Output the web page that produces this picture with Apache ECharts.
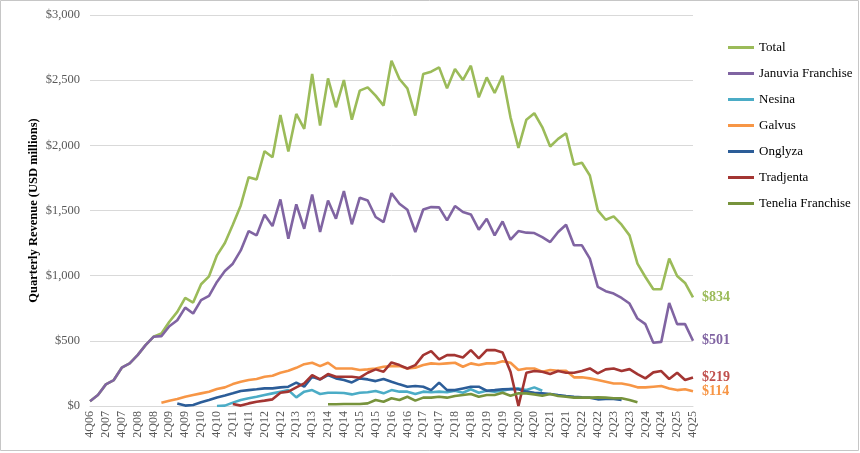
<!DOCTYPE html>
<html>
<head>
    <meta charset="utf-8">
    <title>DPP-4 quarterly revenue</title>
    <style type="text/css">
        html, body { margin: 0; padding: 0; background: #fff; }
        #main { width: 860px; height: 453px; }
    </style>
</head>
<body>
    <div id="main"></div>
<script src="https://cdn.jsdelivr.net/npm/echarts@6/dist/echarts.min.js"></script>
<script type="text/javascript">
    var quarters = [
        '4Q06',
        '1Q07', '2Q07', '3Q07', '4Q07', '1Q08', '2Q08', '3Q08', '4Q08',
        '1Q09', '2Q09', '3Q09', '4Q09', '1Q10', '2Q10', '3Q10', '4Q10',
        '1Q11', '2Q11', '3Q11', '4Q11', '1Q12', '2Q12', '3Q12', '4Q12',
        '1Q13', '2Q13', '3Q13', '4Q13', '1Q14', '2Q14', '3Q14', '4Q14',
        '1Q15', '2Q15', '3Q15', '4Q15', '1Q16', '2Q16', '3Q16', '4Q16',
        '1Q17', '2Q17', '3Q17', '4Q17', '1Q18', '2Q18', '3Q18', '4Q18',
        '1Q19', '2Q19', '3Q19', '4Q19', '1Q20', '2Q20', '3Q20', '4Q20',
        '1Q21', '2Q21', '3Q21', '4Q21', '1Q22', '2Q22', '3Q22', '4Q22',
        '1Q23', '2Q23', '3Q23', '4Q23', '1Q24', '2Q24', '3Q24', '4Q24',
        '1Q25', '2Q25', '3Q25', '4Q25'
    ];
    var yTicks = [0, 500, 1000, 1500, 2000, 2500, 3000];

    var total = [
        37, 84, 166, 199, 294, 327, 390, 467, 531,
        556, 646, 722, 829, 794, 934, 995, 1156,
        1251, 1391, 1539, 1756, 1738, 1955, 1909, 2233,
        1952, 2241, 2126, 2547, 2151, 2514, 2292, 2501,
        2197, 2420, 2445, 2381, 2305, 2649, 2509, 2437,
        2228, 2547, 2565, 2598, 2437, 2585, 2501, 2611,
        2368, 2521, 2402, 2534, 2215, 1981, 2197, 2246,
        2140, 1991, 2050, 2093, 1851, 1866, 1769, 1501,
        1429, 1455, 1391, 1309, 1092, 990, 896, 896,
        1131, 998, 944, 834
    ];
    var januvia = [
        37, 84, 166, 199, 294, 327, 390, 467, 531,
        536, 612, 658, 755, 710, 812, 845, 952,
        1036, 1092, 1194, 1342, 1309, 1468, 1381, 1585,
        1284, 1547, 1360, 1623, 1335, 1577, 1437, 1649,
        1394, 1598, 1577, 1450, 1411, 1633, 1552, 1506,
        1335, 1508, 1526, 1524, 1424, 1534, 1488, 1470,
        1353, 1437, 1309, 1416, 1276, 1342, 1330, 1327,
        1296, 1258, 1335, 1391, 1233, 1233, 1131, 914,
        881, 863, 829, 786, 671, 628, 485, 492,
        791, 628, 628, 501
    ];
    var nesina = [
        null, null, null, null, null, null, null, null, null,
        null, null, null, null, null, null, null, 0,
        3, 26, 46, 59, 71, 84, 97, 110,
        122, 66, 110, 122, 92, 102, 102, 100,
        89, 102, 105, 115, 97, 122, 110, 110,
        92, 110, 105, 110, 105, 117, 102, 128,
        102, 117, 110, 117, 130, 135, 122, 143,
        117, null, null, null, null, null, null, null,
        null, null, null, null, null, null, null, null,
        null, null, null, null
    ];
    var galvus = [
        null, null, null, null, null, null, null, null, null,
        25, 41, 54, 71, 84, 97, 110, 130,
        143, 168, 186, 199, 207, 224, 232, 255,
        270, 293, 321, 332, 306, 332, 288, 288,
        288, 276, 281, 288, 301, 306, 306, 288,
        293, 314, 327, 322, 327, 332, 301, 327,
        314, 327, 327, 344, 332, 276, 288, 288,
        263, 276, 270, 270, 220, 220, 212, 199,
        186, 173, 173, 161, 143, 143, 148, 153,
        135, 122, 128, 114
    ];
    var onglyza = [
        null, null, null, null, null, null, null, null, null,
        null, null, 20, 3, 8, 28, 46, 66,
        80, 97, 115, 122, 128, 135, 135, 143,
        148, 179, 148, 225, 204, 237, 212, 200,
        181, 212, 204, 191, 207, 186, 166, 148,
        153, 148, 122, 179, 122, 122, 135, 148,
        148, 117, 122, 128, 130, 128, 110, 102,
        97, 92, 84, 77, 71, 66, 64, 51,
        54, 54, 46, null, null, null, null, null,
        null, null, null, null
    ];
    var tradjenta = [
        null, null, null, null, null, null, null, null, null,
        null, null, null, null, null, null, null, null,
        null, 15, 3, 20, 33, 41, 51, 102,
        110, 143, 174, 237, 204, 245, 225, 225,
        225, 217, 255, 281, 263, 334, 314, 288,
        314, 390, 421, 357, 390, 390, 372, 429,
        365, 429, 429, 411, 263, 0, 255, 268,
        263, 245, 268, 255, 255, 268, 288, 250,
        281, 288, 268, 283, 245, 212, 258, 268,
        207, 255, 199, 219
    ];
    var tenelia = [
        null, null, null, null, null, null, null, null, null,
        null, null, null, null, null, null, null, null,
        null, null, null, null, null, null, null, null,
        null, null, null, null, null, 13, 13, 15,
        15, 15, 20, 46, 33, 59, 46, 71,
        41, 64, 64, 71, 64, 77, 84, 92,
        71, 84, 84, 102, 79, 97, 97, 89,
        79, 92, 77, 71, 64, 64, 64, 66,
        64, 59, 59, 46, 28, null, null, null,
        null, null, null, null
    ];

    var serif = '"Liberation Serif", "DejaVu Serif", serif';

    function money(v) {
        return '$' + v.toLocaleString('en-US');
    }

    function makeLine(name, data, color, endColor) {
        var s = {
            name: name,
            type: 'line',
            data: data,
            symbol: 'none',
            connectNulls: false,
            lineStyle: { width: 2.6, color: color },
            itemStyle: { color: color }
        };
        if (endColor) {
            s.endLabel = {
                show: true,
                distance: 9,
                formatter: function (p) { return money(p.value); },
                color: endColor,
                fontFamily: serif,
                fontWeight: 'bold',
                fontSize: 14
            };
        }
        return s;
    }

    var myChart = echarts.init(document.getElementById('main'));
    myChart.setOption({
        animation: false,
        backgroundColor: '#ffffff',
        graphic: [{
            type: 'rect',
            shape: { x: 0.5, y: 0.5, width: 858, height: 450 },
            style: { fill: 'none', stroke: '#c6c6c6', lineWidth: 1 }
        }],
        grid: { left: 90, right: 167, top: 15, bottom: 47 },
        legend: {
            orient: 'vertical',
            left: 723,
            top: 36,
            icon: 'rect',
            itemWidth: 26,
            itemHeight: 3,
            itemGap: 13,
            textStyle: { fontFamily: serif, fontSize: 13, color: '#000' },
            data: ['Total', 'Januvia Franchise', 'Nesina', 'Galvus', 'Onglyza', 'Tradjenta', 'Tenelia Franchise']
        },
        xAxis: {
            type: 'category',
            data: quarters,
            boundaryGap: false,
            axisLine: { lineStyle: { color: '#d9d9d9' } },
            axisTick: { show: false },
            axisLabel: {
                interval: 1,
                rotate: 90,
                fontFamily: serif,
                fontSize: 12,
                color: '#595959',
                margin: 5
            }
        },
        yAxis: {
            type: 'value',
            min: yTicks[0],
            max: yTicks[yTicks.length - 1],
            interval: 500,
            name: 'Quarterly Revenue (USD millions)',
            nameLocation: 'middle',
            nameGap: 50,
            nameMoveOverlap: false,
            nameTextStyle: { fontFamily: serif, fontWeight: 'bold', fontSize: 12.5, color: '#000' },
            axisLine: { show: false },
            axisTick: { show: false },
            splitLine: { lineStyle: { color: '#d9d9d9' } },
            axisLabel: {
                formatter: money,
                fontFamily: serif,
                fontSize: 12.5,
                color: '#595959',
                margin: 10
            }
        },
        series: [
            makeLine('Total', total, '#9bbb59', '#9bbb59'),
            makeLine('Januvia Franchise', januvia, '#8064a2', '#8064a2'),
            makeLine('Nesina', nesina, '#4bacc6'),
            makeLine('Galvus', galvus, '#f79646', '#f79646'),
            makeLine('Onglyza', onglyza, '#2c5d98'),
            makeLine('Tradjenta', tradjenta, '#a33532', '#c0504d'),
            makeLine('Tenelia Franchise', tenelia, '#77933c')
        ]
    });
</script>
</body>
</html>
